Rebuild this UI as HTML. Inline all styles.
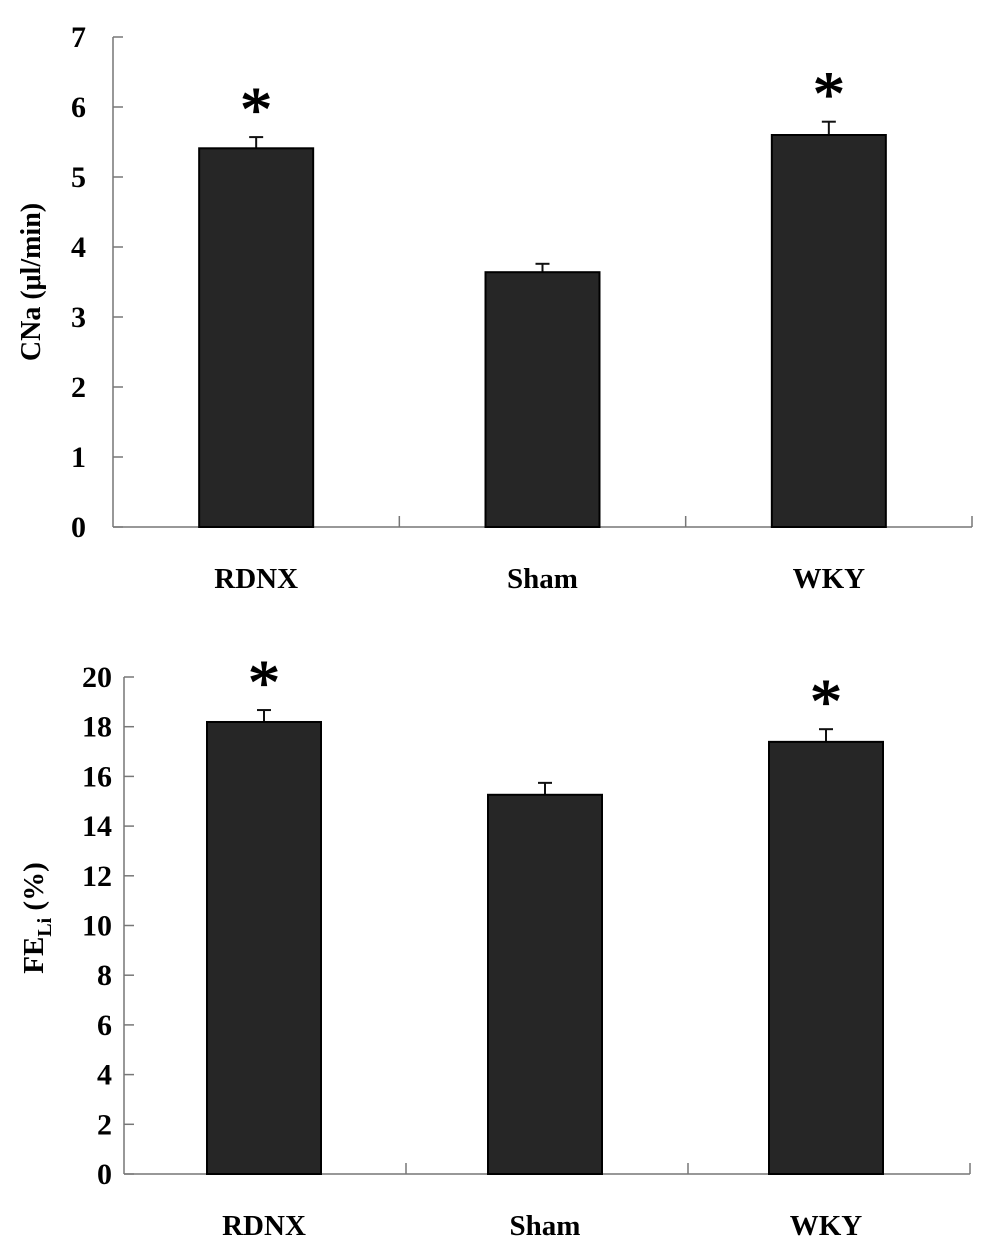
<!DOCTYPE html>
<html><head><meta charset="utf-8"><style>
body{margin:0;background:#fff}
svg{display:block;font-family:"Liberation Serif",serif;font-weight:bold}
</style></head><body>
<svg id="s" width="987" height="1254" viewBox="0 0 987 1254" xmlns="http://www.w3.org/2000/svg"></svg>
<script>
const categories=["RDNX","Sham","WKY"];
const cnaValues=[5.41,3.64,5.6];
const cnaErrors=[0.16,0.12,0.19];
const cnaSig=[true,false,true];
const cnaTicks=[0,1,2,3,4,5,6,7];
const feValues=[18.19,15.26,17.39];
const feErrors=[0.48,0.48,0.51];
const feSig=[true,false,true];
const feTicks=[0,2,4,6,8,10,12,14,16,18,20];
const NS="http://www.w3.org/2000/svg";
const svg=document.getElementById('s');
function mk(t,a,p){const e=document.createElementNS(NS,t);for(const k in a)e.setAttribute(k,a[k]);(p||svg).appendChild(e);return e;}
function chart(o){
  const g=mk('g',{});
  
  
  const max=o.ticks[o.ticks.length-1];
  const y=v=>o.y0-(v/max)*(o.y0-o.y1);
  const bw=(o.x1-o.x0)/categories.length;
  const x=i=>o.x0+bw*i;
  const ax=mk('line',{x1:o.x0,y1:o.y1,x2:o.x0,y2:o.y0,stroke:'#777','stroke-width':1.5},g);
  
  const bx=mk('line',{x1:o.x0,y1:o.y0,x2:o.x1,y2:o.y0,stroke:'#777','stroke-width':1.5},g);
  
  o.ticks.forEach(t=>{
    mk('line',{x1:o.x0,y1:y(t),x2:o.x0+10,y2:y(t),stroke:'#777','stroke-width':1.5},g);
    const tx=mk('text',{x:o.x0-o.gap,y:y(t)+10,'text-anchor':'end','font-size':30},g);
    tx.textContent=t;
    
    
  });
  for(let i=1;i<=categories.length;i++)mk('line',{x1:x(i),y1:o.y0,x2:x(i),y2:o.y0-11,stroke:'#777','stroke-width':1.5},g);
  categories.forEach((c,i)=>{
    const cx=x(i)+bw/2+o.shift[i];
    const v=o.values[i],e=o.errors[i];
    mk('line',{x1:cx,y1:y(v),x2:cx,y2:y(v+e),stroke:'#111','stroke-width':2},g);
    mk('line',{x1:cx-7,y1:y(v+e),x2:cx+7,y2:y(v+e),stroke:'#111','stroke-width':2},g);
    const r=mk('rect',{x:cx-57,y:y(v),width:114,height:o.y0-y(v),fill:'#262626',stroke:'#000','stroke-width':2},g);
    
    
    const l=mk('text',{x:cx,y:o.labelY,'text-anchor':'middle','font-size':29},g);
    l.textContent=c;
    
    
    if(o.sig[i]){
      const s=mk('text',{x:cx,y:y(v+e)-6,'text-anchor':'middle','font-size':64,'font-weight':'normal','stroke':'#000','stroke-width':1.2},g);
      s.textContent='*';
      
      
    }
  });
  return g;
}
chart({name:'cna-chart',x0:113,x1:972,y0:527,y1:37,ticks:cnaTicks,values:cnaValues,errors:cnaErrors,sig:cnaSig,labelY:588,gap:27,shift:[0,0,0]});
chart({name:'feli-chart',x0:124,x1:970,y0:1174,y1:677,ticks:feTicks,values:feValues,errors:feErrors,sig:feSig,labelY:1235,gap:12,shift:[-1,-2,-3]});
</script>
<svg style="position:absolute;left:0;top:0" width="100" height="1254">
<text transform="translate(40,282) rotate(-90)" text-anchor="middle" font-size="28" font-family="Liberation Serif, serif" font-weight="bold">CNa (μl/min)</text>
<text transform="translate(43,918) rotate(-90)" text-anchor="middle" font-size="29" font-family="Liberation Serif, serif" font-weight="bold">FE<tspan font-size="20" dy="8">Li</tspan><tspan dy="-8"> (%)</tspan></text>
</svg>
</body></html>
